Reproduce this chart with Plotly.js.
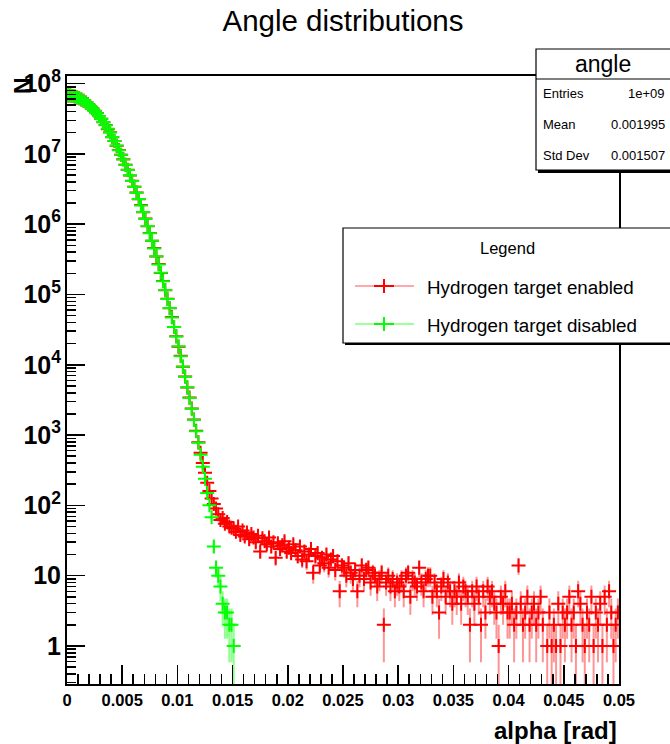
<!DOCTYPE html>
<html><head><meta charset="utf-8">
<script src="https://cdn.plot.ly/plotly-3.0.1.min.js"></script>
<style>html,body{margin:0;padding:0;background:#fff}#chart{width:670px;height:744px}</style>
</head><body><div id="chart"></div>
<script>
// Histogram definition: 250 bins over [0, 0.05] rad
const binLow = 0, binHigh = 0.05, nBins = 250;

// "Hydrogen target disabled" counts, bins 0..75 (rest empty)
const greenCounts = [
68000000, 67500000, 66600000, 65300000, 63700000, 61700000, 59400000, 56800000, 54000000, 51000000,
47800000, 44500000, 41200000, 37900000, 34700000, 31500000, 28400000, 25500000, 22700000, 20100000,
17400000, 15200000, 13200000, 11300000, 9750000, 8310000, 7030000, 5920000, 4950000, 4110000,
3420000, 2810000, 2290000, 1850000, 1490000, 1190000, 945000, 745000, 583000, 452000,
349000, 268000, 204000, 154000, 116000, 86500, 64000, 47200, 34600, 25200,
18300, 13200, 9450, 6750, 4800, 3380, 2360, 1640, 1130, 775,
525, 355, 239, 150, 100, 68, 26, 13, 10, 7, 4, 3, 3, 2, 2, 1];

// "Hydrogen target enabled" counts, bins 0..74
const redCore = [
67800000, 67700000, 66400000, 65500000, 63500000, 61900000, 59200000, 57000000, 53800000, 51200000,
47600000, 44700000, 41000000, 38100000, 34500000, 31700000, 28200000, 25700000, 22500000, 20300000,
17300000, 15300000, 13100000, 11400000, 9700000, 8360000, 6990000, 5960000, 4920000, 4140000,
3400000, 2830000, 2270000, 1870000, 1480000, 1200000, 938000, 752000, 579000, 457000,
346000, 271000, 202000, 156000, 115000, 87300, 63500, 47700, 34400, 25500,
18100, 13400, 9380, 6820, 4770, 3420, 2380, 1660, 1150, 790,
560, 400, 290, 210, 160, 125, 105, 90, 75, 62, 66, 55, 58, 50, 48];

// "Hydrogen target enabled" counts, bins 75..249 (scattering tail)
const redTail = [
47, 42, 50, 38, 44, 36, 41, 33, 39, 35, 30, 37, 22, 34, 31, 28, 35, 26, 30, 18, 29, 24, 27, 31, 22,
25, 21, 28, 23, 19, 26, 17, 22, 16, 20, 24, 11, 19, 21, 14, 18, 15, 20, 13, 17, 19, 12, 16, 6, 14,
13, 10, 15, 11, 9, 12, 6, 10, 14, 9, 12, 13, 8, 11, 10, 7, 9, 11, 2, 8, 10, 7, 9, 6, 8,
7, 9, 6, 10, 11, 5, 9, 8, 7, 13, 8, 6, 9, 10, 10, 5, 8, 6, 3, 7, 9, 5, 8, 6, 4,
6, 5, 8, 4, 7, 6, 5, 2, 6, 4, 7, 5, 2, 6, 3, 7, 5, 6, 4, 3, 1, 5, 4, 6, 3,
3, 4, 2, 3, 14, 4, 2, 3, 5, 2, 3, 4, 2, 3, 5, 2, 0, 1, 3, 1, 2, 1, 4, 1, 3,
2, 3, 5, 2, 3, 1, 6, 4, 2, 1, 3, 2, 5, 1, 3, 2, 4, 1, 5, 2, 6, 3, 1, 2, 3];

const seriesNames = ["Hydrogen target enabled", "Hydrogen target disabled"];
const statLabels = ["Entries", "Mean", "Std Dev"];
const statValues = ["1e+09", "0.001995", "0.001507"];

const redCounts = redCore.concat(redTail);
const binW = (binHigh - binLow) / nBins;
const centers = n => Array.from({length: n}, (_, i) => binLow + (i + 0.5) * binW);
const yOf = c => c.map(v => v > 0 ? v : null);
const eOf = c => c.map(v => v > 0 ? Math.sqrt(v) : 0);

const FONT = "Liberation Sans, Arial, Helvetica, sans-serif";

const traces = [
  {
    type: "scatter", mode: "markers", name: seriesNames[0],
    x: centers(redCounts.length), y: yOf(redCounts),
    marker: {symbol: "cross-thin", size: 10, color: "#ff0000", line: {color: "#ff0000", width: 2}},
    error_y: {type: "data", array: eOf(redCounts), arrayminus: eOf(redCounts), visible: true,
              color: "rgba(255,0,0,0.42)", thickness: 2, width: 0},
    showlegend: false, hoverinfo: "x+y"
  },
  {
    type: "scatter", mode: "markers", name: seriesNames[1],
    x: centers(greenCounts.length), y: yOf(greenCounts),
    marker: {symbol: "cross-thin", size: 10, color: "#00ff00", line: {color: "#00ff00", width: 2}},
    error_y: {type: "data", array: eOf(greenCounts), arrayminus: eOf(greenCounts), visible: true,
              color: "rgba(0,255,0,0.45)", thickness: 2, width: 0},
    showlegend: false, hoverinfo: "x+y"
  }
];

// layout helpers: pixel -> paper coordinates (plot area 67..619 x 76..684)
const PL = 67, PR = 619, PT = 76, PB = 684;
const xp = px => (px - PL) / (PR - PL);
const yp = py => (PB - py) / (PB - PT);

const shapes = [
  // stats box shadow + box
  {type: "rect", xref: "paper", yref: "paper", x0: xp(538), x1: xp(720), y0: yp(173), y1: yp(51),
   fillcolor: "#000", line: {width: 0}, layer: "above"},
  {type: "rect", xref: "paper", yref: "paper", x0: xp(536), x1: xp(718), y0: yp(170), y1: yp(49),
   fillcolor: "#fff", line: {color: "#000", width: 1.2}, layer: "above"},
  {type: "line", xref: "paper", yref: "paper", x0: xp(536), x1: xp(718), y0: yp(79), y1: yp(79),
   line: {color: "#000", width: 1.2}, layer: "above"},
  // legend box shadow + box
  {type: "rect", xref: "paper", yref: "paper", x0: xp(345), x1: xp(720), y0: yp(345), y1: yp(230),
   fillcolor: "#000", line: {width: 0}, layer: "above"},
  {type: "rect", xref: "paper", yref: "paper", x0: xp(343), x1: xp(718), y0: yp(343), y1: yp(228),
   fillcolor: "#fff", line: {color: "#000", width: 1.2}, layer: "above"},
  // legend symbols
  {type: "line", xref: "paper", yref: "paper", x0: xp(355), x1: xp(414), y0: yp(286), y1: yp(286),
   line: {color: "rgba(255,0,0,0.45)", width: 1.5}, layer: "above"},
  {type: "line", xref: "paper", yref: "paper", x0: xp(374), x1: xp(394), y0: yp(286), y1: yp(286),
   line: {color: "#ff0000", width: 2}, layer: "above"},
  {type: "line", xref: "paper", yref: "paper", x0: xp(384), x1: xp(384), y0: yp(279), y1: yp(293),
   line: {color: "#ff0000", width: 2}, layer: "above"},
  {type: "line", xref: "paper", yref: "paper", x0: xp(355), x1: xp(414), y0: yp(324), y1: yp(324),
   line: {color: "rgba(0,255,0,0.5)", width: 1.5}, layer: "above"},
  {type: "line", xref: "paper", yref: "paper", x0: xp(374), x1: xp(394), y0: yp(324), y1: yp(324),
   line: {color: "#00ff00", width: 2}, layer: "above"},
  {type: "line", xref: "paper", yref: "paper", x0: xp(384), x1: xp(384), y0: yp(317), y1: yp(331),
   line: {color: "#00ff00", width: 2}, layer: "above"}
];

const ann = (text, px, py, opts) => Object.assign({
  text: text, xref: "paper", yref: "paper", x: xp(px), y: yp(py), showarrow: false,
  xanchor: "left", yanchor: "middle", font: {family: FONT, size: 13, color: "#000"}
}, opts || {});

const annotations = [
  ann("N", 23, 86, {xanchor: "center", textangle: -90, font: {family: FONT, size: 23, color: "#000", weight: "bold"}}),
  ann("alpha [rad]", 619, 730, {xanchor: "right", font: {family: FONT, size: 24, color: "#000", weight: "bold"}}),
  ann("angle", 603, 64, {xanchor: "center", font: {family: FONT, size: 23, color: "#000"}}),
  ann(statLabels[0], 541, 94, {}), ann(statValues[0], 667, 94, {xanchor: "right"}),
  ann(statLabels[1], 541, 125, {}), ann(statValues[1], 667, 125, {xanchor: "right"}),
  ann(statLabels[2], 541, 156, {}), ann(statValues[2], 667, 156, {xanchor: "right"}),
  ann("Legend", 507, 248, {xanchor: "center", font: {family: FONT, size: 16.5, color: "#000"}}),
  ann(seriesNames[0], 425, 287, {font: {family: FONT, size: 18.8, color: "#000"}}),
  ann(seriesNames[1], 425, 325, {font: {family: FONT, size: 18.8, color: "#000"}})
];

const layout = {
  width: 670, height: 744, autosize: false,
  margin: {l: PL, r: 670 - PR, t: PT, b: 744 - PB, pad: 0},
  paper_bgcolor: "#fff", plot_bgcolor: "#fff",
  showlegend: false,
  title: {text: "Angle distributions", x: 343 / 670, xanchor: "center", y: 1 - 21 / 744, yanchor: "middle",
          font: {family: FONT, size: 29.5, color: "#000"}},
  xaxis: {
    range: [binLow, binHigh], showgrid: false, zeroline: false,
    showline: true, linecolor: "#000", linewidth: 2, mirror: true,
    ticks: "inside", ticklen: 19, tickwidth: 1.5, tickcolor: "#000",
    tick0: 0, dtick: 0.005,
    minor: {ticks: "inside", ticklen: 10, tickwidth: 1.5, tickcolor: "#000", dtick: 0.001, showgrid: false},
    tickfont: {family: FONT, size: 16.5, color: "#000", weight: "bold"}
  },
  yaxis: {
    type: "log", range: [-0.541, 8.108], showgrid: false, zeroline: false,
    showline: true, linecolor: "#000", linewidth: 2, mirror: true,
    ticks: "inside", ticklen: 18, tickwidth: 1.5, tickcolor: "#000",
    dtick: 1, exponentformat: "power",
    minor: {ticks: "inside", ticklen: 9, tickwidth: 1.5, tickcolor: "#000", dtick: "D1", showgrid: false},
    tickfont: {family: FONT, size: 20, color: "#000", weight: "bold"}
  },
  shapes: shapes,
  annotations: annotations
};

Plotly.newPlot("chart", traces, layout, {displayModeBar: false, staticPlot: true});
</script>
</body></html>
